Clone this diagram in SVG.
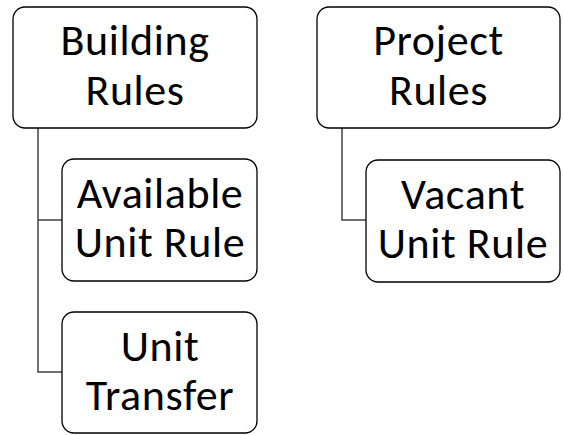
<svg xmlns="http://www.w3.org/2000/svg" width="564" height="435" viewBox="0 0 564 435">
<style>
.box{fill:#fff;stroke:#000;stroke-width:1.3}
.conn{fill:none;stroke:#404040;stroke-width:1.5}
text{font-family:Carlito,Lato,"Liberation Sans",sans-serif;font-size:44px;letter-spacing:0.6px;fill:#000;text-anchor:middle}
</style>
<rect width="564" height="435" fill="#fff"/>
<g id="connectors">
<path class="conn" d="M38 128V220H62M38 220V372H62"/>
<path class="conn" d="M342 128V220H366"/>
</g>
<g id="building-rules">
<rect class="box" x="13" y="7" width="244" height="121" rx="12"/>
<text x="135" y="55">Building</text>
<text x="135" y="105">Rules</text>
</g>
<g id="available-unit-rule">
<rect class="box" x="62" y="159" width="195" height="122" rx="12"/>
<text x="160" y="208">Available</text>
<text x="160" y="257">Unit Rule</text>
</g>
<g id="unit-transfer">
<rect class="box" x="62" y="312" width="195" height="121" rx="12"/>
<text x="160" y="361">Unit</text>
<text x="160" y="410">Transfer</text>
</g>
<g id="project-rules">
<rect class="box" x="317" y="7" width="243" height="121" rx="12"/>
<text x="438.5" y="55">Project</text>
<text x="438.5" y="105">Rules</text>
</g>
<g id="vacant-unit-rule">
<rect class="box" x="366" y="160" width="194" height="122" rx="12"/>
<text x="463" y="209">Vacant</text>
<text x="463" y="258">Unit Rule</text>
</g>
</svg>
